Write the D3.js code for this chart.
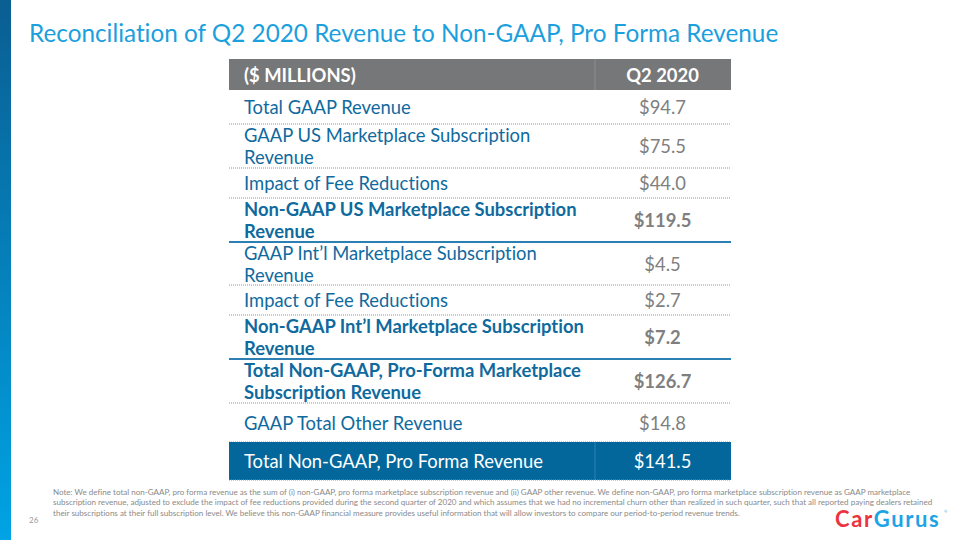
<!DOCTYPE html>
<html>
<head>
<meta charset="utf-8">
<script src="https://cdn.jsdelivr.net/npm/d3@7"></script>
<style>
  html, body { margin: 0; padding: 0; background: #fff; }
  svg { display: block; }
  text { font-family: Lato, "Open Sans", sans-serif; font-variant-ligatures: none; }
</style>
</head>
<body>
<svg id="chart" width="960" height="540"></svg>
<script>
// ---- data ----
const title = "Reconciliation of Q2 2020 Revenue to Non-GAAP, Pro Forma Revenue";
const headerLabels = ["($ MILLIONS)", "Q2 2020"];
const rowLabels = [
  ["Total GAAP Revenue"],
  ["GAAP US Marketplace Subscription", "Revenue"],
  ["Impact of Fee Reductions"],
  ["Non-GAAP US Marketplace Subscription", "Revenue"],
  ["GAAP Int\u2019l Marketplace Subscription", "Revenue"],
  ["Impact of Fee Reductions"],
  ["Non-GAAP Int\u2019l Marketplace Subscription", "Revenue"],
  ["Total Non-GAAP, Pro-Forma Marketplace", "Subscription Revenue"],
  ["GAAP Total Other Revenue"],
  ["Total Non-GAAP, Pro Forma Revenue"]
];
const rowValues = [94.7, 75.5, 44.0, 119.5, 4.5, 2.7, 7.2, 126.7, 14.8, 141.5];
const subtotalRows = [3, 6, 7];      // bold subtotal rows
const totalRow = 9;                  // highlighted total row
const noteLines = [
  "Note: We define total non-GAAP, pro forma revenue as the sum of (i) non-GAAP, pro forma marketplace subscription revenue and (ii) GAAP other revenue. We define non-GAAP, pro forma marketplace subscription revenue as GAAP marketplace",
  "subscription revenue, adjusted to exclude the impact of fee reductions provided during the second quarter of 2020 and which assumes that we had no incremental churn other than realized in such quarter, such that all reported paying dealers retained",
  "their subscriptions at their full subscription level. We believe this non-GAAP financial measure provides useful information that will allow investors to compare our period-to-period revenue trends."
];
const pageNumber = "26";

// ---- layout ----
const rowHeights = [34, 44, 30, 44, 43, 30, 44, 44, 39, 38];
const tableX = 229, tableRight = 731, colSplit = 595;
const headerTop = 59, headerBottom = 90;
const blue = "#0f6a9e", gray = "#7f7f7f";
const fs = 18.4;

const svg = d3.select("#chart");
const defs = svg.append("defs");
const grad = defs.append("linearGradient").attr("id", "sidebar")
  .attr("x1", 0).attr("y1", 0).attr("x2", 0).attr("y2", 1);
grad.append("stop").attr("offset", "0%").attr("stop-color", "#0a5e92");
grad.append("stop").attr("offset", "100%").attr("stop-color", "#00a3e4");
svg.append("rect").attr("x", 0).attr("y", 0).attr("width", 11).attr("height", 540)
  .attr("fill", "url(#sidebar)");

svg.append("text").attr("x", 29).attr("y", 42)
  .attr("font-size", 24.3).attr("fill", "#1c9fdd").text(title);

const bounds = [headerBottom];
rowHeights.forEach(h => bounds.push(bounds[bounds.length - 1] + h));
const valueFmt = d3.format("$.1f");
const colCenter = (colSplit + tableRight) / 2 - 0.5;

// header
svg.append("rect").attr("x", tableX).attr("y", headerTop)
  .attr("width", tableRight - tableX).attr("height", headerBottom - headerTop).attr("fill", "#767779");
svg.append("line").attr("x1", colSplit).attr("x2", colSplit).attr("y1", headerTop).attr("y2", headerBottom)
  .attr("stroke", "#8c8d8f").attr("stroke-width", 1);
svg.append("text").attr("x", 244).attr("y", (headerTop + headerBottom) / 2 + 7)
  .attr("font-size", fs).attr("font-weight", 700).attr("fill", "#fff").text(headerLabels[0]);
svg.append("text").attr("x", colCenter).attr("y", (headerTop + headerBottom) / 2 + 7)
  .attr("text-anchor", "middle").attr("font-size", fs).attr("font-weight", 700).attr("fill", "#fff").text(headerLabels[1]);

const rows = svg.append("g").selectAll("g").data(rowLabels).join("g")
  .attr("transform", (d, i) => `translate(0,${bounds[i]})`);

rows.each(function(lines, i) {
  const g = d3.select(this);
  const h = rowHeights[i];
  const isTotal = i === totalRow;
  const bold = subtotalRows.includes(i);
  if (isTotal) {
    g.append("rect").attr("x", tableX).attr("y", 0).attr("width", tableRight - tableX).attr("height", h)
      .attr("fill", "#03679c");
    g.append("line").attr("x1", colSplit).attr("x2", colSplit).attr("y1", 0).attr("y2", h)
      .attr("stroke", "#2a82b4").attr("stroke-width", 1);
  }
  const textColor = isTotal ? "#fff" : blue;
  const lh = 22;
  const y0 = h / 2 - (lines.length - 1) * lh / 2 + 7.3;
  lines.forEach((ln, k) => {
    g.append("text").attr("x", 244).attr("y", y0 + k * lh)
      .attr("font-size", fs).attr("font-weight", bold ? 700 : 400)
      .attr("fill", textColor).text(ln);
  });
  g.append("text").attr("x", colCenter).attr("y", h / 2 + 7.3)
    .attr("text-anchor", "middle").attr("font-size", fs)
    .attr("font-weight", bold ? 700 : 400)
    .attr("fill", isTotal ? "#fff" : gray).text(valueFmt(rowValues[i]));
  const solid = (i === 3 || i === 6);
  g.append("line").attr("x1", tableX).attr("x2", tableRight).attr("y1", h).attr("y2", h)
    .attr("stroke", solid ? "#2b7fb2" : "#6f9fc0")
    .attr("stroke-width", solid ? 1.8 : 1)
    .attr("stroke-dasharray", solid ? null : "1,1");
});

// note
svg.append("g").selectAll("text").data(noteLines).join("text")
  .attr("x", 53).attr("y", (d, i) => 495 + i * 10.4)
  .attr("font-size", 8.05).attr("fill", "#8a8a8a").text(d => d);
svg.append("text").attr("x", 29).attr("y", 523).attr("font-size", 8).attr("fill", "#999").text(pageNumber);

// logo
const logo = svg.append("text").attr("x", 835).attr("y", 527)
  .attr("font-size", 22).attr("font-weight", 700).attr("letter-spacing", 1.6)
  .attr("font-family", "Nunito, 'Open Sans', sans-serif");
logo.append("tspan").attr("fill", "#ec3340").text("Car");
logo.append("tspan").attr("fill", "#1ea3e6").text("Gurus");
svg.append("text").attr("x", 944).attr("y", 513).attr("font-size", 4).attr("fill", "#1ea3e6").text("®");
</script>
</body>
</html>
